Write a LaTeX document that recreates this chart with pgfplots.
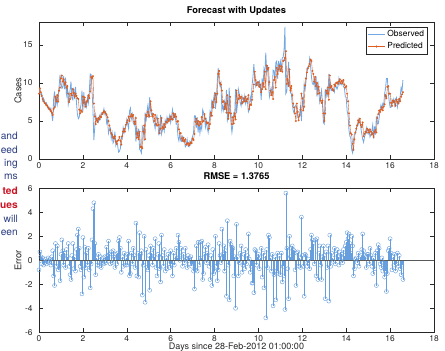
\documentclass[border=0pt]{standalone}
\usepackage{pgfplots}
\pgfplotsset{compat=1.18}
\usepackage{pgfplotstable}
\usepackage{fontspec}
\setmainfont{TeX Gyre Heros}
\definecolor{obsblue}{rgb}{0.45,0.66,0.89}
\definecolor{stemblue}{rgb}{0.40,0.62,0.87}
\definecolor{predorange}{rgb}{0.87,0.36,0.12}
\definecolor{axgray}{rgb}{0.15,0.15,0.15}
\definecolor{navytext}{rgb}{0.17,0.24,0.50}
\definecolor{redtext}{rgb}{0.80,0.08,0.14}

\pgfplotstableread{
h pred err obs
0 8.6 -0.8 9.4
1 9.3 0.7 8.6
2 8.8 0.3 8.5
3 8.3 -0.3 8.6
4 7.9 0.2 7.7
5 7.6 -0.4 8.0
6 7.4 -0.2 7.6
7 7.3 0.1 7.2
8 7.1 -0.3 7.4
9 7.0 -0.1 7.1
10 6.8 0.2 6.6
11 6.6 -0.2 6.8
12 6.5 0.1 6.4
13 6.3 -0.4 6.7
14 6.1 0.3 5.8
15 5.8 0.8 5.0
16 6.6 -1.3 7.9
17 6.8 -2.1 8.9
18 8.2 1.4 6.8
19 7.6 -0.5 8.1
20 8.4 1.2 7.2
21 7.6 -0.8 8.4
22 9.0 -0.6 9.6
23 9.4 -1.7 11.1
24 10.6 0.5 10.1
25 11.0 1.7 9.3
26 10.2 0.8 9.4
27 10.5 -0.4 10.9
28 9.8 0.6 9.2
29 10.1 -0.6 10.7
30 9.4 0.9 8.5
31 9.6 0.3 9.3
32 8.6 1.4 7.2
33 7.5 -0.5 8.0
34 7.9 -1.2 9.1
35 8.6 -1.6 10.2
36 8.4 0.4 8.0
37 9.2 1.4 7.8
38 8.7 -0.7 9.4
39 8.2 0.3 7.9
40 8.6 -0.9 9.5
41 8.3 0.9 7.4
42 8.0 2.1 5.9
43 7.9 2.6 5.3
44 6.5 1.0 5.5
45 6.0 -0.5 6.5
46 6.4 -0.8 7.2
47 6.2 -2.8 9.0
48 8.2 1.9 6.3
49 7.4 -1.4 8.8
50 8.1 1.1 7.0
51 6.9 -0.6 7.5
52 7.5 0.6 6.9
53 7.7 -0.4 8.1
54 8.4 1.0 7.4
55 8.0 -0.8 8.8
56 8.9 -2.3 11.2
57 10.8 -0.3 11.1
58 10.6 1.7 8.9
59 10.9 4.3 6.6
60 7.3 4.8 2.5
61 5.6 1.4 4.2
62 4.6 -1.2 5.8
63 5.3 0.2 5.1
64 4.9 -0.4 5.3
65 5.4 0.5 4.9
66 5.2 -0.5 5.7
67 5.6 0.3 5.3
68 5.5 -0.6 6.1
69 5.9 -0.2 6.1
70 6.1 0.2 5.9
71 6.3 -0.3 6.6
72 6.2 0.3 5.9
73 6.0 -0.2 6.2
74 5.8 1.1 4.7
75 5.5 0.4 5.1
76 5.0 1.6 3.4
77 4.4 0.5 3.9
78 3.8 -0.3 4.1
79 3.4 0.7 2.7
80 3.2 -0.2 3.4
81 2.9 0.8 2.1
82 2.7 0.3 2.4
83 3.0 -0.6 3.6
84 2.3 0.5 1.8
85 2.0 -0.3 2.3
86 2.4 0.6 1.8
87 2.5 1.6 0.9
88 2.9 1.9 1.0
89 2.4 1.0 1.4
90 1.9 -1.0 2.9
91 3.0 0.3 2.7
92 3.6 -0.5 4.1
93 4.0 0.6 3.4
94 3.6 -0.4 4.0
95 4.5 0.2 4.3
96 4.8 -0.4 5.2
97 5.1 0.5 4.6
98 5.6 1.6 4.0
99 5.0 -1.3 6.3
100 5.6 -1.1 6.7
101 5.9 0.6 5.3
102 5.6 -0.3 5.9
103 5.8 1.0 4.8
104 4.9 0.4 4.5
105 4.6 -0.6 5.2
106 5.4 3.1 2.3
107 2.8 -1.3 4.1
108 3.4 0.6 2.8
109 2.6 -1.4 4.0
110 3.6 2.3 1.3
111 1.6 0.5 1.1
112 1.6 0.8 0.8
113 1.4 -2.9 4.3
114 3.6 -0.4 4.0
115 4.4 2.0 2.4
116 2.6 -3.5 6.1
117 5.8 0.9 4.9
118 5.6 -0.6 6.2
119 6.2 -0.8 7.0
120 5.8 0.4 5.4
121 5.6 -2.5 8.1
122 7.6 1.2 6.4
123 6.4 0.6 5.8
124 5.6 -0.4 6.0
125 5.9 1.0 4.9
126 5.0 0.3 4.7
127 5.8 1.8 4.0
128 4.6 -0.6 5.2
129 4.4 -1.3 5.7
130 5.3 0.5 4.8
131 4.5 1.4 3.1
132 3.4 -0.7 4.1
133 4.0 -1.8 5.8
134 5.4 2.1 3.3
135 4.2 0.4 3.8
136 4.0 -0.5 4.5
137 4.6 0.9 3.7
138 4.2 -0.9 5.1
139 4.9 0.2 4.7
140 4.8 -0.7 5.5
141 5.3 0.5 4.8
142 5.0 -0.3 5.3
143 5.2 -0.6 5.8
144 5.6 0.8 4.8
145 5.3 -0.3 5.6
146 5.2 -1.3 6.5
147 6.0 0.6 5.4
148 5.5 -0.4 5.9
149 5.9 0.3 5.6
150 5.6 1.0 4.6
151 4.9 0.2 4.7
152 5.0 2.1 2.9
153 3.9 1.5 2.4
154 3.35 0.0 3.35
155 3.4 1.0 2.4
156 2.7 0.4 2.3
157 2.4 -0.5 2.9
158 2.8 0.5 2.3
159 2.3 -0.2 2.5
160 2.6 1.0 1.6
161 1.9 0.1 1.8
162 2.0 -0.6 2.6
163 2.1 0.4 1.7
164 1.8 0.2 1.6
165 2.0 -0.3 2.3
166 2.2 0.3 1.9
167 2.1 -0.5 2.6
168 2.7 -0.3 3.0
169 2.5 -0.9 3.4
170 3.3 -2.4 5.7
171 4.9 -0.8 5.7
172 5.3 1.2 4.1
173 4.6 -0.9 5.5
174 5.0 1.5 3.5
175 4.4 -0.4 4.8
176 4.9 1.5 3.4
177 4.6 0.2 4.4
178 5.5 1.6 3.9
179 4.9 -1.6 6.5
180 5.0 -1.1 6.1
181 5.9 0.5 5.4
182 5.3 1.1 4.2
183 4.9 -0.2 5.1
184 4.7 0.6 4.1
185 4.8 1.3 3.5
186 4.0 -0.5 4.5
187 4.6 -1.6 6.2
188 6.1 0.4 5.7
189 5.7 -2.1 7.8
190 7.5 0.9 6.6
191 6.8 -1.1 7.9
192 7.9 -0.9 8.8
193 8.6 2.0 6.6
194 7.5 -0.5 8.0
195 8.6 -1.7 10.3
196 11.2 -0.8 12.0
197 11.6 1.4 10.2
198 10.0 0.4 9.6
199 9.8 -0.2 10.0
200 9.0 2.6 6.4
201 7.5 0.5 7.0
202 7.6 1.2 6.4
203 6.6 -0.9 7.5
204 7.3 0.8 6.5
205 6.1 -3.0 9.1
206 8.4 3.3 5.1
207 5.3 -0.4 5.7
208 6.1 -3.3 9.4
209 8.2 1.6 6.6
210 6.0 1.3 4.7
211 4.6 1.1 3.5
212 5.5 1.0 4.5
213 4.7 -1.3 6.0
214 6.0 0.3 5.7
215 5.2 -4.0 9.2
216 9.0 3.0 6.0
217 7.4 0.3 7.1
218 7.9 -1.3 9.2
219 8.4 -0.2 8.6
220 8.0 0.6 7.4
221 8.2 1.2 7.0
222 7.3 -1.0 8.3
223 7.5 -0.4 7.9
224 8.0 0.5 7.5
225 7.6 -0.7 8.3
226 8.2 0.9 7.3
227 7.6 -0.3 7.9
228 7.9 0.4 7.5
229 8.4 2.2 6.2
230 6.6 0.1 6.5
231 7.2 -1.0 8.2
232 7.1 -0.5 7.6
233 7.8 -1.9 9.7
234 8.9 -1.9 10.8
235 9.8 -2.7 12.5
236 11.5 0.9 10.6
237 10.4 0.8 9.6
238 9.7 -0.4 10.1
239 10.1 0.3 9.8
240 10.1 0.5 9.6
241 9.5 -0.7 10.2
242 9.8 0.2 9.6
243 8.8 1.0 7.8
244 9.2 -1.4 10.6
245 10.0 0.6 9.4
246 9.5 -2.3 11.8
247 11.5 0.4 11.1
248 9.2 -4.8 14.0
249 12.3 0.9 11.4
250 11.8 -0.6 12.4
251 12.0 2.1 9.9
252 10.1 1.9 8.2
253 9.0 0.2 8.8
254 8.4 -0.9 9.3
255 8.8 0.5 8.3
256 7.9 -3.8 11.7
257 10.4 -1.2 11.6
258 10.8 0.3 10.5
259 9.4 -3.3 12.7
260 12.0 -0.9 12.9
261 11.2 0.6 10.6
262 11.8 -1.1 12.9
263 12.3 0.4 11.9
264 11.6 -1.2 12.8
265 12.2 0.6 11.6
266 11.5 -1.8 13.3
267 12.9 -0.5 13.4
268 13.0 -1.3 14.3
269 13.3 -4.1 17.4
270 14.2 5.6 8.6
271 9.9 1.0 8.9
272 10.5 -0.7 11.2
273 9.6 -3.2 12.8
274 11.8 2.0 9.8
275 9.0 0.3 8.7
276 9.6 1.0 8.6
277 8.4 1.2 7.2
278 7.3 0.9 6.4
279 6.8 0.8 6.0
280 6.0 -0.8 6.8
281 5.0 -2.1 7.1
282 7.3 0.6 6.7
283 6.2 0.7 5.5
284 5.1 -0.5 5.6
285 5.8 0.2 5.6
286 6.5 -0.6 7.1
287 8.6 3.6 5.0
288 8.0 0.4 7.6
289 6.4 -0.5 6.9
290 6.9 -3.0 9.9
291 9.7 0.5 9.2
292 10.6 0.4 10.2
293 11.4 -0.5 11.9
294 11.9 -0.2 12.1
295 12.2 0.1 12.1
296 12.5 -0.7 13.2
297 13.1 0.9 12.2
298 12.9 2.1 10.8
299 11.6 1.7 9.9
300 11.2 1.4 9.8
301 10.2 -0.3 10.5
302 10.8 1.7 9.1
303 9.6 -1.3 10.9
304 10.0 1.8 8.2
305 8.6 -1.6 10.2
306 9.5 0.6 8.9
307 8.7 1.2 7.5
308 7.7 -0.4 8.1
309 7.4 -1.6 9.0
310 7.7 0.3 7.4
311 6.0 1.2 4.8
312 5.0 0.4 4.6
313 6.0 -3.2 9.2
314 9.0 0.7 8.3
315 8.6 -0.6 9.2
316 9.4 1.2 8.2
317 7.8 -3.4 11.2
318 11.0 2.1 8.9
319 9.4 -0.5 9.9
320 9.6 0.6 9.0
321 9.2 0.2 9.0
322 9.0 -0.1 9.1
323 9.8 1.0 8.8
324 9.6 -0.3 9.9
325 10.0 0.5 9.5
326 10.1 0.9 9.2
327 9.9 0.3 9.6
328 10.2 -0.4 10.6
329 10.5 0.7 9.8
330 10.0 0.0 10.0
331 10.3 0.5 9.8
332 10.0 -0.2 10.2
333 10.4 0.9 9.5
334 9.8 0.4 9.4
335 9.4 1.2 8.2
336 9.6 1.5 8.1
337 8.6 2.3 6.3
338 7.6 1.8 5.8
339 6.0 2.2 3.8
340 4.4 1.4 3.0
341 3.4 0.6 2.8
342 3.2 2.0 1.2
343 2.0 1.2 0.8
344 1.2 -1.3 2.5
345 2.6 -0.7 3.3
346 3.5 0.1 3.4
347 4.0 0.2 3.8
348 4.4 -0.2 4.6
349 5.1 0.6 4.5
350 4.8 -0.5 5.3
351 5.3 0.3 5.0
352 4.5 0.4 4.1
353 4.2 0.9 3.3
354 4.8 2.2 2.6
355 3.0 0.8 2.2
356 3.3 0.4 2.9
357 3.6 0.3 3.3
358 3.5 -0.6 4.1
359 4.0 0.5 3.5
360 3.8 0.5 3.3
361 3.5 -0.3 3.8
362 3.9 1.0 2.9
363 3.6 0.4 3.2
364 3.2 -0.5 3.7
365 3.4 -1.1 4.5
366 2.9 0.2 2.7
367 3.6 -0.7 4.3
368 3.8 0.6 3.2
369 3.5 -2.1 5.6
370 5.4 0.8 4.6
371 5.9 1.3 4.6
372 6.4 1.0 5.4
373 6.2 -0.3 6.5
374 6.5 -0.6 7.1
375 6.8 0.2 6.6
376 6.4 -0.9 7.3
377 6.9 -0.2 7.1
378 7.2 -1.4 8.6
379 8.4 -0.9 9.3
380 8.0 -2.6 10.6
381 9.5 -1.1 10.6
382 9.6 0.8 8.8
383 8.6 1.0 7.6
384 8.6 1.8 6.8
385 7.4 0.6 6.8
386 7.0 -0.8 7.8
387 7.7 0.3 7.4
388 7.5 -0.4 7.9
389 7.6 0.5 7.1
390 7.0 -0.9 7.9
391 7.8 -0.3 8.1
392 7.5 0.6 6.9
393 7.3 -0.5 7.8
394 7.9 0.4 7.5
395 7.6 -0.7 8.3
396 8.2 -1.2 9.4
397 8.5 -0.4 8.9
398 8.8 -1.6 10.4
}\datatable

\pgfplotsset{matlab/.style={
  scale only axis, width=395pt,
  xmin=0, xmax=432, xtick={0,48,...,432},
  xticklabels={0,2,4,6,8,10,12,14,16,18},
  axis line style={axgray, line width=0.5pt},
  tick style={axgray, line width=0.5pt},
  major tick length=4pt,
  tick align=inside,
  /pgf/number format/assume math mode=true,
  tick label style={font=\fontsize{8.4}{10}\selectfont, text=axgray},
  xticklabel style={inner sep=0pt, yshift=-3.4pt},
  yticklabel style={xshift=-3pt},
  label style={font=\fontsize{9.3}{11}\selectfont, text=axgray},
  ylabel style={at={(axis description cs:-0.053,0.5)}, anchor=center},
  title style={font=\bfseries\fontsize{9.3}{11}\selectfont, text=black,
    at={(axis description cs:0.5,1)}, anchor=base, yshift=3pt},
}}

\begin{document}
\begin{tikzpicture}
\path[use as bounding box] (0pt,0pt) rectangle (445pt,351pt);

\begin{axis}[matlab, at={(39pt,192pt)}, anchor=south west, height=136.7pt,
  ymin=0, ymax=18, ytick={0,5,10,15}, yticklabels={0,5,10,15},
  ylabel={Cases}, title={Forecast with Updates},
  legend style={at={(0.984,0.968)}, anchor=north east, draw=axgray,
    line width=0.5pt, fill=white, font=\fontsize{8.4}{10}\selectfont,
    inner sep=1.5pt, row sep=0.5pt},
  legend cell align=left]
\addplot[obsblue, line width=0.8pt] table[x=h,y=obs]{\datatable};
\addlegendentry{Observed}
\addplot[predorange, line width=0.4pt, mark=*, mark size=0.75pt,
  mark options={fill=predorange, draw=predorange}] table[x=h,y=pred]{\datatable};
\addlegendentry{Predicted}
\end{axis}

\begin{axis}[matlab, at={(39pt,18.7pt)}, anchor=south west, height=144pt,
  ymin=-6, ymax=6, ytick={-6,-4,-2,0,2,4,6},
  yticklabels={-6,-4,-2,0,2,4,6},
  ylabel={Error}, title={RMSE = 1.3765},
  xlabel={Days since 28-Feb-2012 01:00:00},
  xlabel style={font=\fontsize{9}{10}\selectfont, inner sep=0pt, at={(axis description cs:0.5,0)}, anchor=base, yshift=-17.0pt}]
\addplot[stemblue, ycomb, line width=0.4pt, mark=o, mark size=2pt,
  mark options={stemblue, line width=0.4pt}] table[x=h,y=err]{\datatable};
\addplot[gray!70!black, line width=0.6pt] coordinates {(0,0) (432,0)};
\end{axis}

\begin{scope}[every node/.style={anchor=base east, inner sep=0pt, font=\fontsize{10.2}{12}\selectfont}]
\node[text=navytext] at (18pt,211.7pt) {and};
\node[text=navytext] at (18pt,197.7pt) {eed};
\node[text=navytext] at (18pt,184.3pt) {ing};
\node[text=navytext] at (18pt,171pt) {ms};
\node[text=redtext, font=\bfseries\fontsize{10.2}{12}\selectfont] at (18pt,156pt) {ted};
\node[text=redtext, font=\bfseries\fontsize{10.2}{12}\selectfont] at (18pt,142.7pt) {ues};
\node[text=navytext] at (18pt,128.3pt) {will};
\node[text=navytext] at (18pt,115pt) {een};
\end{scope}
\end{tikzpicture}
\end{document}
